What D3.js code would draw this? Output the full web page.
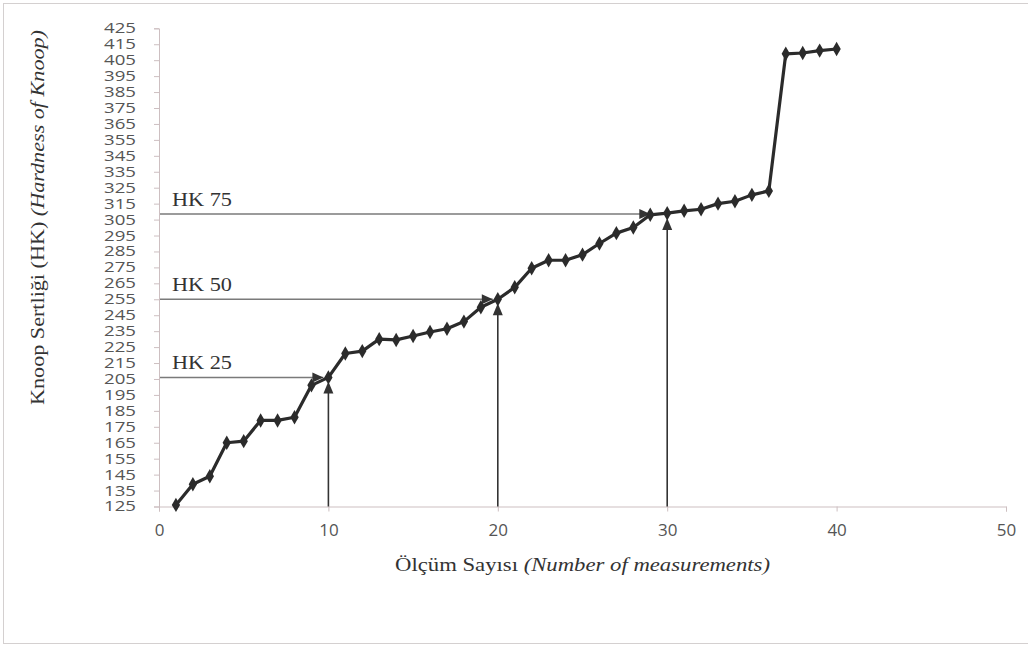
<!DOCTYPE html>
<html>
<head>
<meta charset="utf-8">
<script src="https://cdn.jsdelivr.net/npm/d3@7"></script>
<style>
  body { margin: 0; background: #fff; }
  .tick text { font-family: "Open Sans", sans-serif; fill: #555; }
  .serif { font-family: "Liberation Serif", "DejaVu Serif", serif; fill: #333; }
</style>
</head>
<body>
<div id="chart"></div>
<script>
var measurements = d3.range(1, 41);
var hardness = [126, 139, 144, 165, 166, 179, 179, 181, 201, 206,
                221, 222.5, 230, 229.5, 232, 234.5, 236.5, 241, 250, 255,
                262.5, 274.5, 279.5, 279.5, 283, 290, 296.5, 300, 308, 309,
                310.5, 311.5, 315, 316.5, 320.5, 323, 409, 409.5, 411, 412];

// quartile reference lines
var hkLabels = ["HK 25", "HK 50", "HK 75"];
var hkValues = [206, 255, 308.5];
var hkVertX = [10, 20, 30];
var hkHorizEnd = [10, 20, 29.3];

var xTicks = [0, 10, 20, 30, 40, 50];
var yTicks = d3.range(125, 426, 10);

var svgWidth = 1028;
var svgHeight = 646;

var svg = d3.select("#chart")
    .append("svg")
    .attr("width", svgWidth)
    .attr("height", svgHeight);

// outer frame
svg.append("rect")
    .attr("x", 3.5).attr("y", 3.5)
    .attr("width", 1030).attr("height", 640)
    .attr("fill", "none")
    .attr("stroke", "#d4d0d0");

var xScale = d3.scaleLinear().domain([0, 50]).range([159, 1006]);
var yScale = d3.scaleLinear().domain([125, 425]).range([506.5, 28.3]);

// axes
var xAxis = svg.append("g")
    .attr("transform", "translate(0," + yScale(125) + ")")
    .call(d3.axisBottom(xScale).tickValues(xTicks).tickSize(5).tickPadding(12));
xAxis.selectAll("text").attr("font-size", 17);

var yAxis = svg.append("g")
    .attr("transform", "translate(" + xScale(0) + ",0)")
    .call(d3.axisLeft(yScale).tickValues(yTicks).tickSize(5).tickPadding(18));
yAxis.selectAll("text")
    .attr("font-family", "Liberation Sans, sans-serif")
    .attr("font-size", 14)
    .attr("textLength", 32)
    .attr("lengthAdjust", "spacingAndGlyphs");

svg.selectAll(".domain, .tick line").attr("stroke", "#cdbfc1");

// reference lines
hkValues.forEach(function (v, i) {
    var y = yScale(v);
    var xEnd = xScale(hkHorizEnd[i]) - 5;
    svg.append("line")
        .attr("x1", xScale(0) + 1).attr("x2", xEnd)
        .attr("y1", y).attr("y2", y)
        .attr("stroke", "#7a7a7a").attr("stroke-width", 1.5);
    svg.append("path")
        .attr("d", "M" + xEnd + "," + y + " l-11,-5 l0,10 z")
        .attr("fill", "#333");

    var vx = xScale(hkVertX[i]);
    var tip = yScale(v) + 4;
    svg.append("line")
        .attr("x1", vx).attr("x2", vx)
        .attr("y1", yScale(125)).attr("y2", tip + 8)
        .attr("stroke", "#333").attr("stroke-width", 1.6);
    svg.append("path")
        .attr("d", "M" + vx + "," + tip + " l-5,12 l10,0 z")
        .attr("fill", "#333");

    svg.append("text")
        .attr("class", "serif")
        .attr("x", 172)
        .attr("y", y - 8)
        .attr("font-size", 18)
        .attr("textLength", 60)
        .attr("lengthAdjust", "spacingAndGlyphs")
        .text(hkLabels[i]);
});

// hardness line and markers
var line = d3.line()
    .x(function (d, i) { return xScale(measurements[i]); })
    .y(function (d) { return yScale(d); });

svg.append("path")
    .datum(hardness)
    .attr("d", line)
    .attr("fill", "none")
    .attr("stroke", "#2b2b2b")
    .attr("stroke-width", 3.2)
    .attr("stroke-linejoin", "round");

svg.selectAll("path.marker")
    .data(hardness)
    .enter()
    .append("path")
    .attr("class", "marker")
    .attr("d", d3.symbol().type(d3.symbolDiamond).size(60))
    .attr("transform", function (d, i) {
        return "translate(" + xScale(measurements[i]) + "," + yScale(d) + ")";
    })
    .attr("fill", "#2b2b2b");

// axis titles
var xTitle = svg.append("text")
    .attr("class", "serif")
    .attr("x", 395)
    .attr("y", 571)
    .attr("font-size", 19)
    .attr("textLength", 375)
    .attr("lengthAdjust", "spacingAndGlyphs");
xTitle.append("tspan").text("Ölçüm Sayısı ");
xTitle.append("tspan").attr("font-style", "italic").text("(Number of measurements)");

var yTitle = svg.append("text")
    .attr("class", "serif")
    .attr("transform", "translate(44,405) rotate(-90)")
    .attr("font-size", 19)
    .attr("textLength", 375)
    .attr("lengthAdjust", "spacingAndGlyphs");
yTitle.append("tspan").text("Knoop Sertliği (HK) ");
yTitle.append("tspan").attr("font-style", "italic").text("(Hardness of Knoop)");
</script>
</body>
</html>
